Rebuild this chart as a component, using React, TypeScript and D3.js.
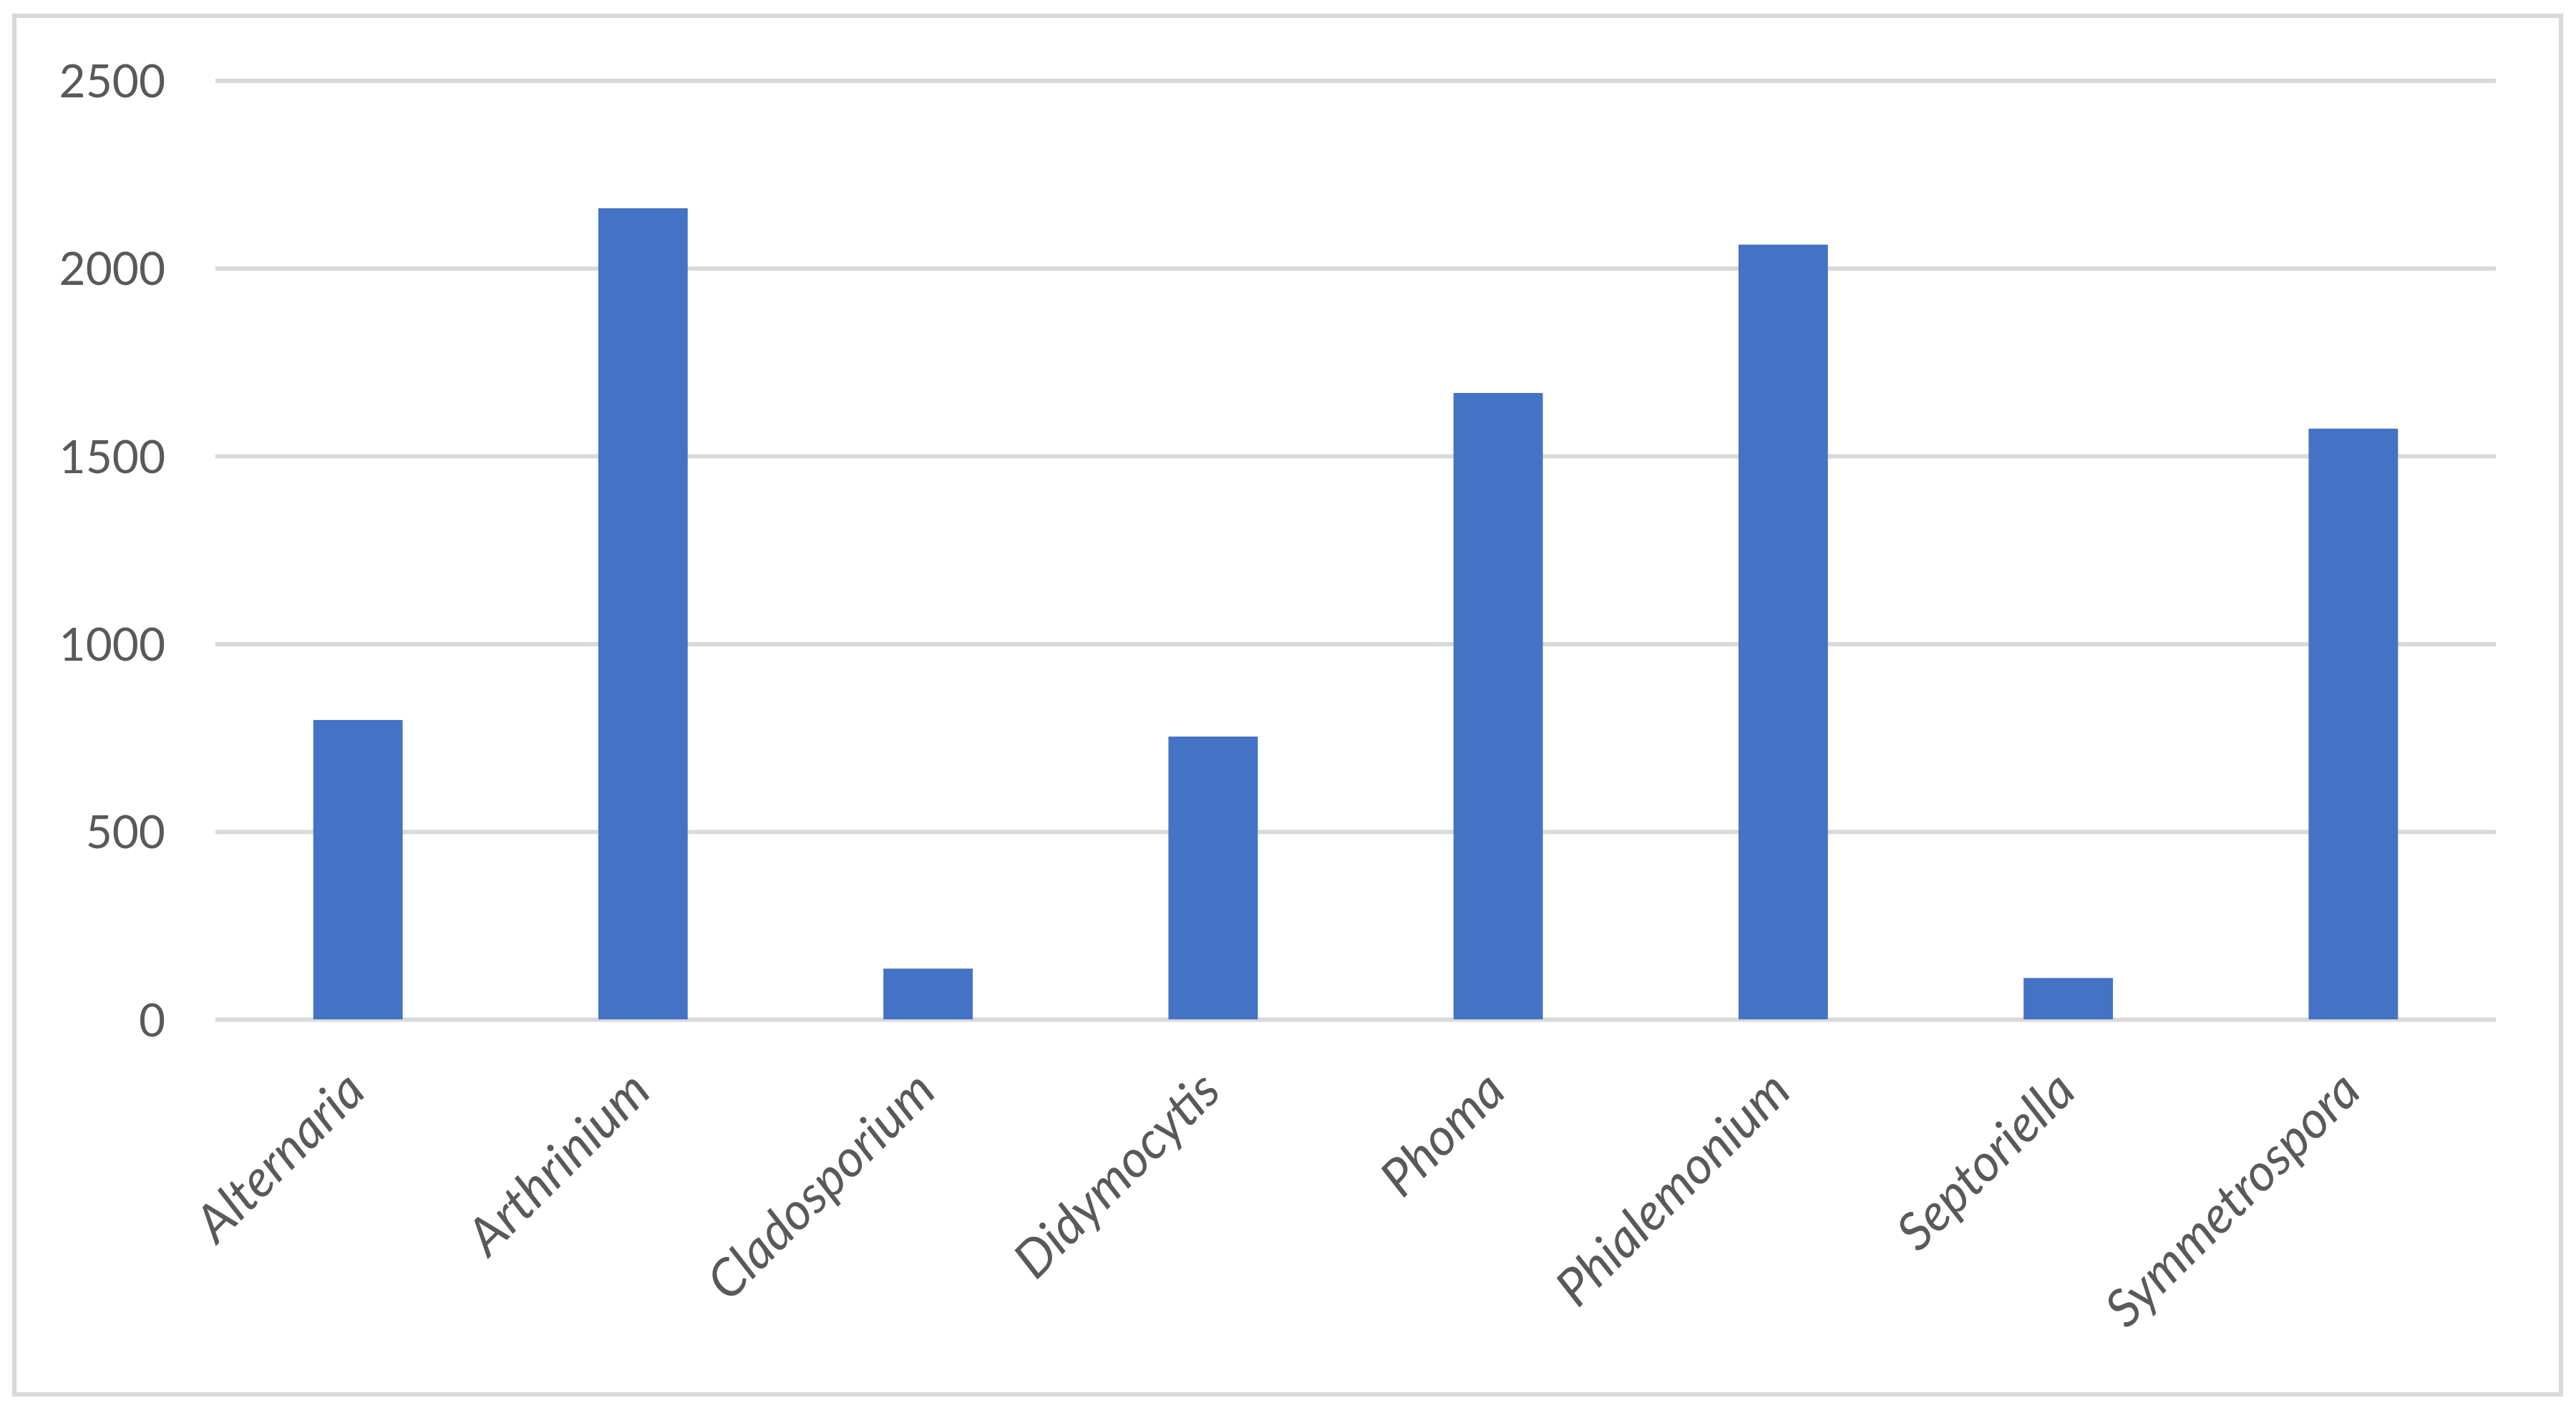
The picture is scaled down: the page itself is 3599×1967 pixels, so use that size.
import React, { useRef, useEffect } from 'react';
import { select, scaleBand, scaleLinear, axisLeft, axisBottom } from 'd3';

const genera = [
  'Alternaria',
  'Arthrinium',
  'Cladosporium',
  'Didymocytis',
  'Phoma',
  'Phialemonium',
  'Septoriella',
  'Symmetrospora',
];
const counts = [797, 2160, 135, 753, 1668, 2063, 110, 1573];
const yTicks = [0, 500, 1000, 1500, 2000, 2500];

const W = 3599;
const H = 1967;

const App = () => {
  const svgRef = useRef<SVGSVGElement>(null);

  useEffect(() => {
    const svg = select(svgRef.current);
    svg.selectAll('*').remove();

    const left = 301;
    const right = 3487;
    const top = 112.5;
    const bottom = 1424;

    // excel default gap width (219%)
    const gap = 1 - 1 / 3.19;
    const x = scaleBand<string>()
      .domain(genera)
      .range([left, right])
      .paddingInner(gap)
      .paddingOuter(gap / 2);

    const y = scaleLinear().domain([0, 2500]).range([bottom, top]);

    svg
      .append('rect')
      .attr('x', 20)
      .attr('y', 22)
      .attr('width', 3558)
      .attr('height', 1926)
      .attr('fill', '#ffffff')
      .attr('stroke', '#d9d9d9')
      .attr('stroke-width', 6);

    const yAxis = svg
      .append('g')
      .attr('transform', `translate(${left},0)`)
      .call(
        axisLeft(y)
          .tickValues(yTicks)
          .tickSize(-(right - left))
          .tickPadding(70)
          .tickFormat(d => String(d))
      );
    yAxis.select('.domain').remove();
    yAxis.selectAll('line').attr('stroke', '#d9d9d9').attr('stroke-width', 6);
    yAxis
      .selectAll('text')
      .attr('fill', '#595959')
      .attr('font-family', 'Lato, "Open Sans", sans-serif')
      .attr('font-size', 64)
      .attr('dy', '0.36em');

    svg
      .selectAll('.bar')
      .data(counts)
      .join('rect')
      .attr('class', 'bar')
      .attr('x', (d, i) => x(genera[i]) as number)
      .attr('width', x.bandwidth())
      .attr('y', d => y(d))
      .attr('height', d => y(0) - y(d))
      .attr('fill', '#4472c4');

    const xAxis = svg
      .append('g')
      .attr('transform', `translate(0,${bottom})`)
      .call(axisBottom(x).tickSize(0));
    xAxis.select('.domain').remove();
    xAxis
      .selectAll('text')
      .attr('fill', '#595959')
      .attr('font-family', 'Lato, "Open Sans", sans-serif')
      .attr('font-style', 'italic')
      .attr('font-size', 72)
      .attr('text-anchor', 'end')
      .attr('x', 0)
      .attr('y', 0)
      .attr('dy', 0)
      .attr('transform', 'translate(14,104) rotate(-45)');
  }, []);

  return (
    <div style={{ position: 'absolute', left: 0, top: 0 }}>
      <svg ref={svgRef} width={W} height={H} style={{ display: 'block', background: '#fff' }} />
    </div>
  );
};

export default App;
